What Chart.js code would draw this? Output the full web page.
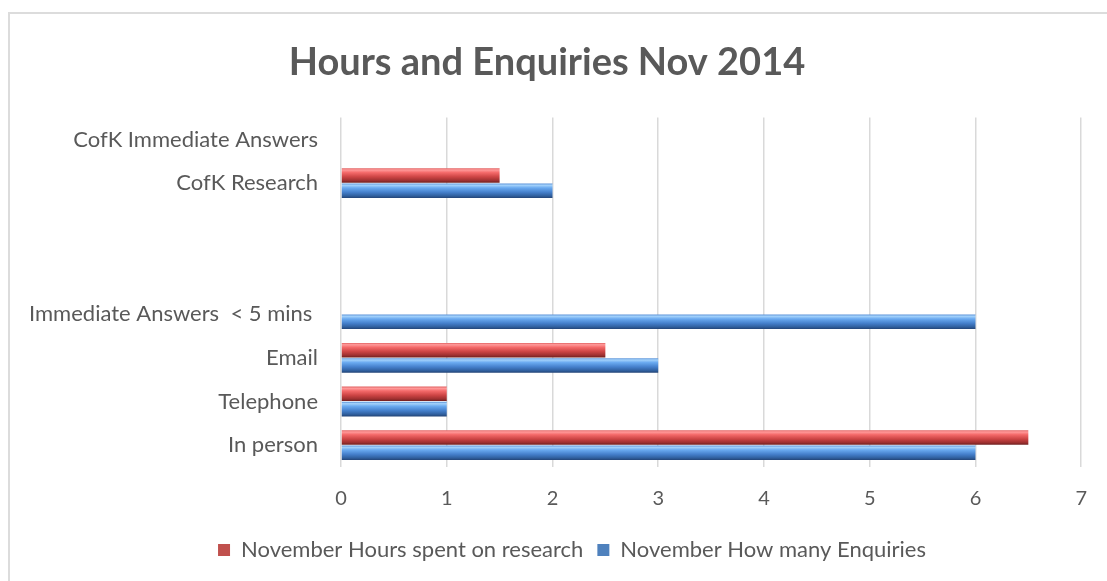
<!DOCTYPE html>
<html>
<head>
<meta charset="utf-8">
<script src="https://cdn.jsdelivr.net/npm/chart.js@4"></script>
<style>
  html, body { margin: 0; padding: 0; background: #fff; overflow: hidden; }
  #box {
    position: absolute; left: 8px; top: 12px;
    width: 1099px; height: 569px;
    border-top: 2px solid #dcdcdc; border-left: 2px solid #dcdcdc;
  }
  #wrap { position: absolute; left: 0; top: 0; width: 1097px; height: 567px; }
</style>
</head>
<body>
<div id="box"><div id="wrap"><canvas id="mycanvas"></canvas></div></div>
<script>
// categories listed top to bottom
var categories = ['CofK Immediate Answers', 'CofK Research', '', '', 'Immediate Answers  < 5 mins ', 'Email', 'Telephone', 'In person'];
var hoursSpent = [0, 1.5, null, null, 0, 2.5, 1, 6.5];
var enquiries = [0, 2, null, null, 6, 3, 1, 6];
var xTicks = [0, 1, 2, 3, 4, 5, 6, 7];

var catPct = 0.7, barPct = 0.95;
var grey = '#595959';
var font = 'Lato, "Open Sans", sans-serif';

// bevel-ish shading for each bar, placed from the y scale
function barFill(stops, solid) {
  return function(ctx) {
    var chart = ctx.chart;
    var y = chart.scales ? chart.scales.y : null;
    if (ctx.type !== 'data' || !y || !chart.chartArea) return solid;
    var c = y.getPixelForValue(ctx.dataIndex);
    var step = y.height / categories.length;
    var slot = step * catPct / 2;
    var mid = c + (ctx.datasetIndex - 0.5) * slot;
    var h = slot * barPct;
    if (!isFinite(mid) || !isFinite(h)) return solid;
    var g = chart.ctx.createLinearGradient(0, mid - h / 2, 0, mid + h / 2);
    stops.forEach(function(s) { g.addColorStop(s[0], s[1]); });
    return g;
  };
}

var redStops = [[0, '#e06060'], [0.12, '#ff9a9a'], [0.3, '#f46a6a'], [0.6, '#cc4444'], [0.85, '#9e3030'], [1, '#6e2020']];
var blueStops = [[0, '#5a92d8'], [0.12, '#a4d2fb'], [0.3, '#6aaaf0'], [0.6, '#4580cc'], [0.85, '#30609f'], [1, '#234476']];
var legendFills = ['#c0504d', '#4f81bd'];

var shiftLegend = {
  id: 'shiftLegend',
  afterLayout: function(chart) {
    chart.legend.left += 25;
    chart.legend.right += 25;
  }
};

var chartdata = {
  labels: categories,
  datasets: [
    {
      label: 'November Hours spent on research',
      data: hoursSpent,
      backgroundColor: barFill(redStops, '#c0504d'),
      categoryPercentage: catPct,
      barPercentage: barPct
    },
    {
      label: 'November How many Enquiries',
      data: enquiries,
      backgroundColor: barFill(blueStops, '#4f81bd'),
      categoryPercentage: catPct,
      barPercentage: barPct
    }
  ]
};

var ctx = document.getElementById('mycanvas');

var barGraph = new Chart(ctx, {
  type: 'bar',
  data: chartdata,
  plugins: [shiftLegend],
  options: {
    indexAxis: 'y',
    responsive: true,
    maintainAspectRatio: false,
    animation: false,
    layout: { padding: { left: 0, right: 23, top: 0, bottom: 10 } },
    plugins: {
      title: {
        display: true,
        text: 'Hours and Enquiries Nov 2014',
        color: grey,
        font: { family: font, size: 38, weight: 'bold' },
        padding: { top: 26, bottom: 32 }
      },
      legend: {
        position: 'bottom',
        labels: {
          color: grey,
          font: { family: font, size: 22 },
          boxWidth: 12,
          boxHeight: 12,
          padding: 14,
          generateLabels: function(chart) {
            var items = Chart.defaults.plugins.legend.labels.generateLabels(chart);
            items.forEach(function(it, i) { it.fillStyle = legendFills[i]; it.strokeStyle = legendFills[i]; it.lineWidth = 0; });
            return items;
          }
        }
      },
      tooltip: { enabled: false }
    },
    scales: {
      x: {
        min: 0,
        max: 7,
        afterBuildTicks: function(scale) {
          scale.ticks = xTicks.map(function(v) { return { value: v }; });
        },
        afterFit: function(scale) { scale.height -= 6; },
        grid: { color: '#d9d9d9', lineWidth: 1.5, drawTicks: false },
        border: { display: false },
        ticks: { color: grey, font: { family: font, size: 20 }, padding: 20 }
      },
      y: {
        afterFit: function(scale) { scale.width = 331; },
        grid: { display: false, drawTicks: false },
        border: { display: false },
        ticks: { color: grey, font: { family: font, size: 22 }, padding: 23, autoSkip: false }
      }
    }
  }
});
</script>
</body>
</html>
